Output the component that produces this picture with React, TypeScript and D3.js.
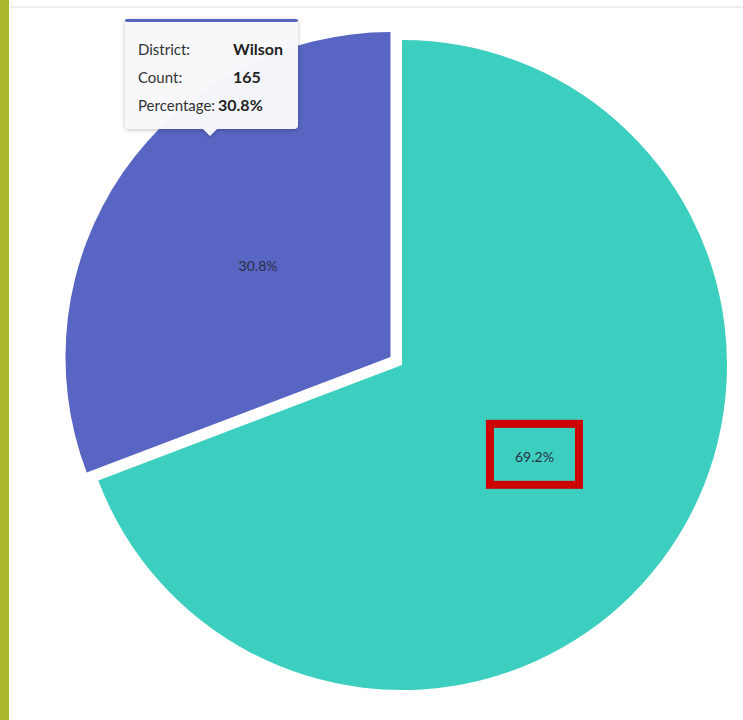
import React from "react";
import * as d3 from "d3";

const districts = ["Other", "Wilson"];
const counts = [371, 165];
const colors = ["#3ccfbf", "#5865c2"];
const tooltipLabels = ["District:", "Count:", "Percentage:"];

export default function App() {
  const W = 743;
  const H = 720;
  const cx = 402;
  const cy = 365;
  const r = 325;
  const explode = 14;
  const total = d3.sum(counts);
  const pie = d3.pie<number>().sort(null).value((d) => d);
  const arcs = pie(counts);
  const arc = d3.arc<d3.PieArcDatum<number>>().innerRadius(0).outerRadius(r);
  const labelArc = d3.arc<d3.PieArcDatum<number>>().innerRadius(r * 0.495).outerRadius(r * 0.495);
  const pct = (v: number) => ((v / total) * 100).toFixed(1) + "%";

  const hovered = 1;
  const offsetOf = (a: d3.PieArcDatum<number>, i: number) => {
    if (i !== hovered) return [0, 0];
    const m = (a.startAngle + a.endAngle) / 2;
    return [Math.sin(m) * explode, -Math.cos(m) * explode];
  };

  const [lx, ly] = labelArc.centroid(arcs[0]);
  const boxW = 89, boxH = 61;

  // tooltip
  const tx = 125, ty = 19, tw = 173, th = 110;
  const tipValues = [districts[hovered], String(counts[hovered]), pct(counts[hovered])];

  return (
    <svg
      width={W}
      height={H}
      style={{ position: "absolute", left: 0, top: 0, background: "#fff", fontFamily: "Lato, sans-serif" }}
    >
      <defs>
        <filter id="sh" x="-20%" y="-20%" width="140%" height="150%">
          <feDropShadow dx="0" dy="1" stdDeviation="2" floodColor="#000" floodOpacity="0.25" />
        </filter>
      </defs>
      <rect x={0} y={0} width={W} height={H} fill="#fff" />
      <line x1={10} x2={W} y1={7} y2={7} stroke="#e8e8e8" strokeWidth={1.5} />
      <rect x={0} y={0} width={9} height={H} fill="#abb82b" />
      <g>
        {arcs.map((a, i) => {
          const [ox, oy] = offsetOf(a, i);
          const [clx, cly] = labelArc.centroid(a);
          return (
            <g key={i} transform={`translate(${cx + ox},${cy + oy})`}>
              <path d={arc(a) || ""} fill={colors[i]} />
              <text
                x={clx}
                y={cly}
                textAnchor="middle"
                dominantBaseline="central"
                fontSize={14}
                fill="#2a2f45"
              >
                {pct(a.value)}
              </text>
            </g>
          );
        })}
      </g>
      <rect
        x={cx + lx - boxW / 2}
        y={cy + ly - boxH / 2 - 2}
        width={boxW}
        height={boxH}
        fill="none"
        stroke="#cc0000"
        strokeWidth={8}
      />
      <g filter="url(#sh)">
        <path
          d={`M${tx + 4},${ty} H${tx + tw - 4} Q${tx + tw},${ty} ${tx + tw},${ty + 4} V${ty + th - 4} Q${tx + tw},${ty + th} ${tx + tw - 4},${ty + th} H${tx + 92} L${tx + 85},${ty + th + 7} L${tx + 78},${ty + th} H${tx + 4} Q${tx},${ty + th} ${tx},${ty + th - 4} V${ty + 4} Q${tx},${ty} ${tx + 4},${ty} Z`}
          fill="#f9f9fc"
          fillOpacity={0.97}
        />
      </g>
      <rect x={tx} y={ty} width={tw} height={3} fill={colors[hovered]} rx={2} />
      {tooltipLabels.map((l, i) => (
        <g key={l}>
          <text x={138} y={55 + i * 28} fontSize={15} fill="#333">
            {l}
          </text>
          <text
            x={i === 2 ? 218 : 233}
            y={55 + i * 28}
            fontSize={16}
            fontWeight="bold"
            fill="#222"
          >
            {tipValues[i]}
          </text>
        </g>
      ))}
    </svg>
  );
}
